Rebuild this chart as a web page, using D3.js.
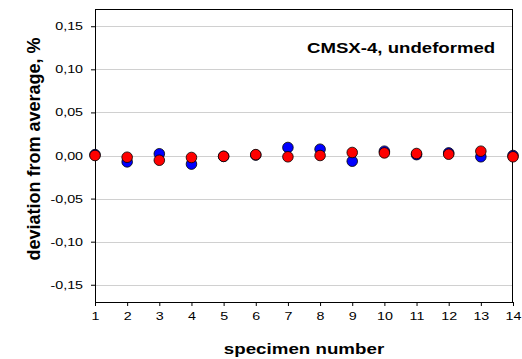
<!DOCTYPE html>
<html>
<head>
<meta charset="utf-8">
<script src="https://cdn.jsdelivr.net/npm/d3@7"></script>
<style>
  body { margin: 0; background: #fff; }
  svg { display: block; font-family: "Liberation Sans", Arial, sans-serif; }
  .axis text { font-size: 11px; fill: #000; }
  .axis path, .axis line { stroke: #000; }
  .axis-label { font-weight: bold; }
</style>
</head>
<body>
<div id="chart"></div>
<script>
// data
const specimens = [1, 2, 3, 4, 5, 6, 7, 8, 9, 10, 11, 12, 13, 14];
const blueSeries = [0.001, -0.0074, 0.002, -0.010, -0.001, 0.0005, 0.0093, 0.0073, -0.0066, 0.005, 0.001, 0.003, -0.0015, 0.000];
const redSeries = [0.000, -0.002, -0.0055, -0.0023, -0.001, 0.001, -0.0015, 0.000, 0.0035, 0.003, 0.0023, 0.0015, 0.005, -0.0015];
const yTicks = [-0.15, -0.10, -0.05, 0.00, 0.05, 0.10, 0.15];
const annotation = "CMSX-4, undeformed";

const width = 522, height = 359;
const margin = { top: 9, right: 9, bottom: 57, left: 95 };
const innerWidth = width - margin.left - margin.right;
const innerHeight = height - margin.top - margin.bottom;
const stretch = 1.3; // the reference text is wide

const svg = d3.select("#chart")
    .append("svg")
    .attr("width", width)
    .attr("height", height);

const inner = svg.append("g")
    .attr("transform", `translate(${margin.left},${margin.top})`);

// scales
const xScale = d3.scaleLinear()
    .domain([1, 14])
    .range([0, innerWidth]);

const yScale = d3.scaleLinear()
    .domain([-0.17, 0.17])
    .range([innerHeight, 0]);

const fmt = d => d3.format(".2f")(d).replace(".", ",").replace("−", "-");

// gridlines
inner.append("g")
    .selectAll("line")
    .data(yTicks)
    .join("line")
    .attr("x1", 0)
    .attr("x2", innerWidth)
    .attr("y1", d => Math.round(yScale(d)) + 0.5)
    .attr("y2", d => Math.round(yScale(d)) + 0.5)
    .attr("stroke", "#d0d0d0")
    .attr("stroke-width", 1);

// frame top/right
inner.append("line")
    .attr("x1", 0).attr("x2", innerWidth)
    .attr("y1", 0.5).attr("y2", 0.5)
    .attr("stroke", "#000");
inner.append("line")
    .attr("x1", innerWidth - 0.5).attr("x2", innerWidth - 0.5)
    .attr("y1", 0).attr("y2", innerHeight)
    .attr("stroke", "#000");

// x-axis
const xAxis = inner.append("g")
    .attr("class", "axis")
    .attr("transform", `translate(0,${innerHeight})`)
    .call(d3.axisBottom(xScale).tickValues(specimens).tickSize(4).tickSizeOuter(0).tickPadding(6).tickFormat(d3.format("d")));
xAxis.selectAll("text").attr("transform", `scale(${stretch},1)`);

// y-axis
const yAxis = inner.append("g")
    .attr("class", "axis")
    .call(d3.axisLeft(yScale).tickValues(yTicks).tickSize(4).tickSizeOuter(0).tickPadding(5.2).tickFormat(fmt));
yAxis.selectAll("text").attr("transform", `scale(${stretch},1)`);

// points: blue below, red on top
const series = [
    { values: blueSeries, color: "#0000ff" },
    { values: redSeries, color: "#ff0000" }
];

series.forEach(s => {
    inner.append("g")
        .selectAll("circle")
        .data(specimens)
        .join("circle")
        .attr("cx", d => xScale(d))
        .attr("cy", (d, i) => yScale(s.values[i]))
        .attr("r", 5.3)
        .attr("fill", s.color)
        .attr("stroke", "#000")
        .attr("stroke-width", 0.8);
});

// annotation
svg.append("text")
    .attr("transform", `translate(307,53) scale(1.33,1)`)
    .attr("font-size", "14px")
    .attr("font-weight", "bold")
    .text(annotation);

// x label
svg.append("text")
    .attr("class", "axis-label")
    .attr("transform", `translate(${margin.left + innerWidth / 2},354) scale(1.25,1)`)
    .attr("font-size", "15px")
    .attr("text-anchor", "middle")
    .text("specimen number");

// y label
svg.append("text")
    .attr("class", "axis-label")
    .attr("transform", "rotate(-90)")
    .attr("x", -149)
    .attr("y", 40)
    .attr("font-size", "18px")
    .attr("text-anchor", "middle")
    .text("deviation from average, %");
</script>
</body>
</html>
